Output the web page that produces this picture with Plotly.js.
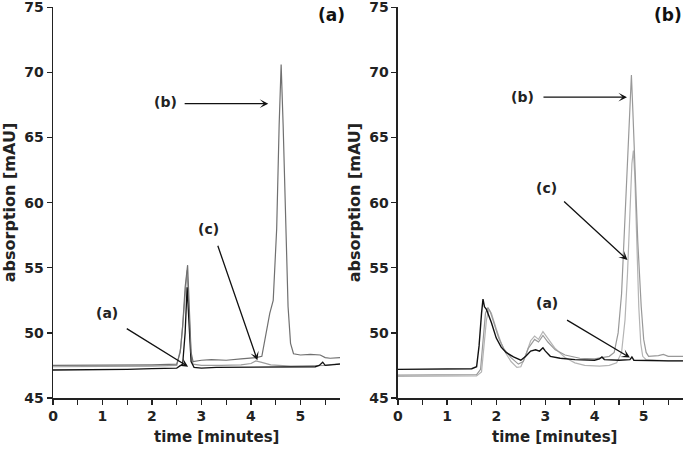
<!DOCTYPE html>
<html>
<head>
<meta charset="utf-8">
<script src="https://cdn.plot.ly/plotly-3.0.1.min.js"></script>
<style>html,body{margin:0;padding:0;background:#fff;}#chart{width:685px;height:453px;}</style>
</head>
<body>
<div id="chart"></div>
<script>
// ---------- Panel (a) data ----------
const tA_a = [0, 0.5, 1, 1.5, 2, 2.5, 2.62, 2.67, 2.71, 2.75, 2.79, 2.85, 3.0, 3.3, 3.6, 4.0, 4.3, 4.6, 5.0, 5.3, 5.38, 5.45, 5.5, 5.6, 5.8];
const yA_a = [47.15, 47.15, 47.2, 47.2, 47.25, 47.3, 47.6, 50.0, 53.5, 50.5, 47.8, 47.35, 47.3, 47.35, 47.35, 47.4, 47.4, 47.35, 47.4, 47.4, 47.5, 47.75, 47.5, 47.55, 47.6];
const tA_b = [0, 0.5, 1, 1.5, 2, 2.5, 2.57, 2.62, 2.67, 2.72, 2.76, 2.79, 2.83, 3.0, 3.2, 3.5, 3.8, 4.1, 4.22, 4.3, 4.38, 4.45, 4.52, 4.57, 4.61, 4.65, 4.7, 4.75, 4.8, 4.86, 5.0, 5.2, 5.4, 5.5, 5.6, 5.8];
const yA_b = [47.5, 47.5, 47.5, 47.55, 47.55, 47.6, 48.5, 50.5, 53.5, 55.2, 52.0, 48.5, 47.8, 47.9, 47.95, 47.9, 48.0, 48.1, 48.2, 49.8, 51.5, 52.5, 58.0, 66.0, 70.6, 66.0, 58.0, 52.0, 49.2, 48.4, 48.3, 48.35, 48.3, 48.1, 48.05, 48.1];
const tA_c = [0, 0.5, 1, 1.5, 2, 2.5, 2.58, 2.63, 2.68, 2.71, 2.75, 2.79, 2.83, 3.0, 3.4, 3.8, 4.0, 4.1, 4.2, 4.4, 4.8, 5.2, 5.4, 5.5, 5.8];
const yA_c = [47.4, 47.4, 47.4, 47.45, 47.45, 47.5, 48.8, 51.0, 53.8, 54.8, 51.5, 48.3, 47.6, 47.5, 47.5, 47.55, 47.65, 47.85, 47.75, 47.55, 47.45, 47.45, 47.45, 47.5, 47.65];

// ---------- Panel (b) data ----------
const tB_a = [0, 0.5, 1, 1.5, 1.6, 1.65, 1.7, 1.73, 1.76, 1.8, 1.9, 2.0, 2.1, 2.2, 2.35, 2.5, 2.6, 2.7, 2.8, 2.88, 2.95, 3.0, 3.1, 3.3, 3.6, 4.0, 4.1, 4.15, 4.2, 4.5, 4.72, 4.76, 4.8, 5.2, 5.5, 5.8];
const yB_a = [47.2, 47.2, 47.2, 47.25, 47.4, 49.0, 51.5, 52.6, 52.0, 51.8, 50.8, 49.6, 48.9, 48.5, 48.15, 47.9, 48.2, 48.6, 48.7, 48.6, 48.85, 48.6, 48.2, 48.05, 47.95, 47.9, 48.0, 48.15, 47.95, 47.9, 47.95, 48.15, 47.9, 47.85, 47.85, 47.85];
const tB_b = [0, 0.5, 1, 1.6, 1.68, 1.73, 1.78, 1.83, 1.88, 1.95, 2.05, 2.15, 2.3, 2.45, 2.55, 2.65, 2.78, 2.86, 2.95, 3.05, 3.2, 3.4, 3.7, 4.0, 4.15, 4.3, 4.4, 4.48, 4.55, 4.62, 4.68, 4.72, 4.75, 4.78, 4.83, 4.88, 4.95, 5.0, 5.05, 5.1, 5.3, 5.4, 5.5, 5.8];
const yB_b = [46.75, 46.75, 46.75, 46.8, 47.2, 49.5, 51.5, 51.95, 51.6, 50.8, 49.6, 48.8, 48.1, 47.6, 47.8, 48.8, 49.5, 49.3, 49.8, 49.3, 48.7, 48.3, 48.05, 48.0, 48.1, 48.2, 48.5, 50.0, 53.0, 58.5, 64.0, 67.5, 69.8, 67.0, 62.0, 57.0, 52.0, 49.5, 48.5, 48.2, 48.25, 48.35, 48.2, 48.2];
const tB_c = [0, 0.5, 1, 1.6, 1.7, 1.75, 1.8, 1.85, 1.9, 2.0, 2.1, 2.2, 2.3, 2.42, 2.5, 2.6, 2.7, 2.78, 2.86, 2.95, 3.05, 3.2, 3.4, 3.6, 3.8, 4.1, 4.3, 4.45, 4.55, 4.62, 4.67, 4.72, 4.76, 4.79, 4.82, 4.86, 4.9, 4.94, 4.98, 5.05, 5.3, 5.5, 5.8];
const yB_c = [46.65, 46.65, 46.65, 46.7, 47.0, 48.8, 51.0, 51.8, 51.5, 50.3, 49.2, 48.4, 47.8, 47.35, 47.4, 48.3, 49.4, 49.75, 49.5, 50.1, 49.6, 48.8, 48.1, 47.7, 47.5, 47.45, 47.5, 47.7, 48.5, 51.0, 54.5, 59.0, 63.0, 64.0, 62.0, 57.0, 52.0, 49.2, 48.2, 47.95, 47.9, 47.85, 47.85];

const xTicks = [0, 1, 2, 3, 4, 5];
const yTicks = [45, 50, 55, 60, 65, 70, 75];

const FONT = 'DejaVu Sans';
const tickFont = {family: FONT, size: 14, color: '#222', weight: 'bold'};
const titleFont = {family: FONT, size: 15, color: '#222', weight: 'bold'};

function line(x, y, color, width, xa, ya) {
  return {x: x, y: y, xaxis: xa, yaxis: ya, type: 'scatter', mode: 'lines',
          line: {color: color, width: width}, hoverinfo: 'skip', showlegend: false};
}

const traces = [
  line(tA_c, yA_c, '#9c9c9c', 1.2, 'x', 'y'),
  line(tA_a, yA_a, '#111111', 1.3, 'x', 'y'),
  line(tA_b, yA_b, '#707070', 1.2, 'x', 'y'),
  line(tB_c, yB_c, '#b4b4b4', 1.2, 'x2', 'y2'),
  line(tB_b, yB_b, '#999999', 1.2, 'x2', 'y2'),
  line(tB_a, yB_a, '#111111', 1.4, 'x2', 'y2')
];

function xaxis(domain, anchor) {
  return {domain: domain, anchor: anchor, range: [0, 5.8], tickvals: xTicks,
          showgrid: false, zeroline: false, showline: true, linecolor: '#222', linewidth: 1.5,
          ticks: 'outside', ticklen: 5, tickwidth: 1.3, tickcolor: '#222',
          minor: {dtick: 0.5, tick0: 0, ticks: 'outside', ticklen: 5, tickwidth: 1.3, tickcolor: '#222'},
          tickfont: tickFont, title: {text: ''}};
}
function yaxis(anchor) {
  return {domain: [0, 1], anchor: anchor, range: [45, 75.02], tickvals: yTicks,
          showgrid: false, zeroline: false, showline: true, linecolor: '#222', linewidth: 1.5,
          ticks: 'outside', ticklen: 5, tickwidth: 1.3, tickcolor: '#222',
          ticklabeloverflow: 'allow',
          tickfont: tickFont, title: {text: 'absorption [mAU]', font: {family: FONT, size: 16, color: '#222', weight: 'bold'}, standoff: 4}};
}

function arrow(xr, yr, tip, tail) {
  return {xref: xr, yref: yr, axref: xr, ayref: yr, x: tip[0], y: tip[1], ax: tail[0], ay: tail[1],
          text: '', showarrow: true, arrowhead: 3, arrowsize: 1.1, arrowwidth: 1.3, arrowcolor: '#111'};
}
function label(xr, yr, x, y, txt) {
  return {xref: xr, yref: yr, x: x, y: y, text: txt, showarrow: false,
          font: {family: FONT, size: 14, color: '#222', weight: 'bold'}};
}
function xtitle(x) {
  return {xref: 'paper', yref: 'paper', x: x, y: -0.0997, xanchor: 'center', yanchor: 'middle',
          text: 'time [minutes]', showarrow: false, font: titleFont};
}

const annotations = [
  label('x', 'y', 2.27, 67.7, '(b)'), arrow('x', 'y', [4.35, 67.6], [2.63, 67.6]),
  label('x', 'y', 3.14, 58.0, '(c)'), arrow('x', 'y', [4.13, 47.9], [3.32, 56.8]),
  label('x', 'y', 1.09, 51.5, '(a)'), arrow('x', 'y', [2.73, 47.4], [1.46, 50.4]),
  label('x2', 'y2', 2.54, 68.1, '(b)'), arrow('x2', 'y2', [4.66, 68.1], [2.93, 68.1]),
  label('x2', 'y2', 3.03, 61.1, '(c)'), arrow('x2', 'y2', [4.67, 55.6], [3.35, 60.2]),
  label('x2', 'y2', 3.03, 52.3, '(a)'), arrow('x2', 'y2', [4.72, 48.1], [3.41, 51.05]),
  xtitle(0.2603), xtitle(0.7968),
  {xref: 'paper', yref: 'paper', x: 0.4667, y: 0.9795, xanchor: 'right', yanchor: 'middle',
   text: '(a)', showarrow: false, font: {family: FONT, size: 17, color: '#111', weight: 'bold'}},
  {xref: 'paper', yref: 'paper', x: 1.0016, y: 0.9795, xanchor: 'right', yanchor: 'middle',
   text: '(b)', showarrow: false, font: {family: FONT, size: 17, color: '#111', weight: 'bold'}}
];

const layout = {
  width: 685, height: 453,
  margin: {l: 53, r: 2, t: 7, b: 55},
  paper_bgcolor: '#ffffff', plot_bgcolor: '#ffffff',
  showlegend: false,
  xaxis: xaxis([0, 0.4556], 'y'),
  yaxis: yaxis('x'),
  xaxis2: xaxis([0.5476, 1], 'y2'),
  yaxis2: yaxis('x2'),
  annotations: annotations
};

Plotly.newPlot('chart', traces, layout, {staticPlot: true, displayModeBar: false});
</script>
</body>
</html>
